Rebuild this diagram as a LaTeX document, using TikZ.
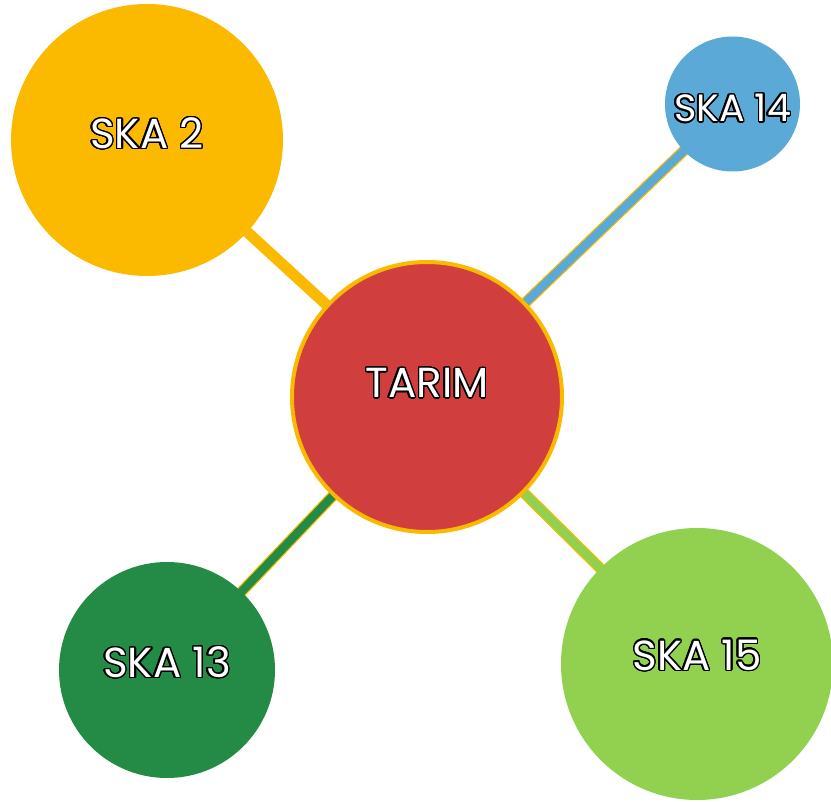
\documentclass[tikz,border=0pt]{standalone}
\usepackage{fontspec}
\setmainfont{Poppins}
\usepackage{contour}
\contourlength{1.4pt}
\contournumber{24}
\usetikzlibrary{backgrounds}
\definecolor{skaorange}{RGB}{251,185,0}
\definecolor{skared}{RGB}{208,62,62}
\definecolor{skablue}{RGB}{91,169,214}
\definecolor{skadark}{RGB}{35,139,69}
\definecolor{skalight}{RGB}{146,208,80}
\newcommand{\skatext}[1]{\contour{black}{\textcolor{white}{#1}}}
\tikzset{bubble/.style={circle,inner sep=0pt,font=\fontsize{42}{42}\selectfont},
  linkedge/.style={draw=skaorange,line width=11pt},
  linkfill/.style={line width=8.5pt}}
\begin{document}
\begin{tikzpicture}[x=1pt,y=-1pt]
\useasboundingbox (0,0) rectangle (831,802);
% nodes
\node[bubble,fill=skared,draw=skaorange,line width=4pt,minimum size=270pt,text depth=28pt] (tarim) at (427,397) {\skatext{TARIM}};
\node[bubble,fill=skaorange,minimum size=272pt,text depth=14pt] (ska2) at (147,140) {\skatext{SKA 2}};
\node[bubble,fill=skablue,minimum size=135pt,text height=37pt,font=\fontsize{38}{38}\selectfont] (ska14) at (732.5,104) {\skatext{SKA 14}};
\node[bubble,fill=skadark,minimum size=216pt,text depth=16pt] (ska13) at (167,670) {\skatext{SKA 13}};
\node[bubble,fill=skalight,minimum size=272pt,text depth=18pt] (ska15) at (697,664) {\skatext{SKA 15}};
% links
\begin{scope}[on background layer]
\draw[linkedge] (tarim.center) -- (ska2.center);
\draw[linkedge] (tarim.center) -- (ska14.center);
\draw[linkedge] (tarim.center) -- (ska13.center);
\draw[linkedge] (tarim.center) -- (ska15.center);
\draw[linkfill,skablue] (tarim.center) -- (ska14.center);
\draw[linkfill,skadark] (tarim.center) -- (ska13.center);
\draw[linkfill,skalight] (tarim.center) -- (ska15.center);
\end{scope}
\end{tikzpicture}
\end{document}
